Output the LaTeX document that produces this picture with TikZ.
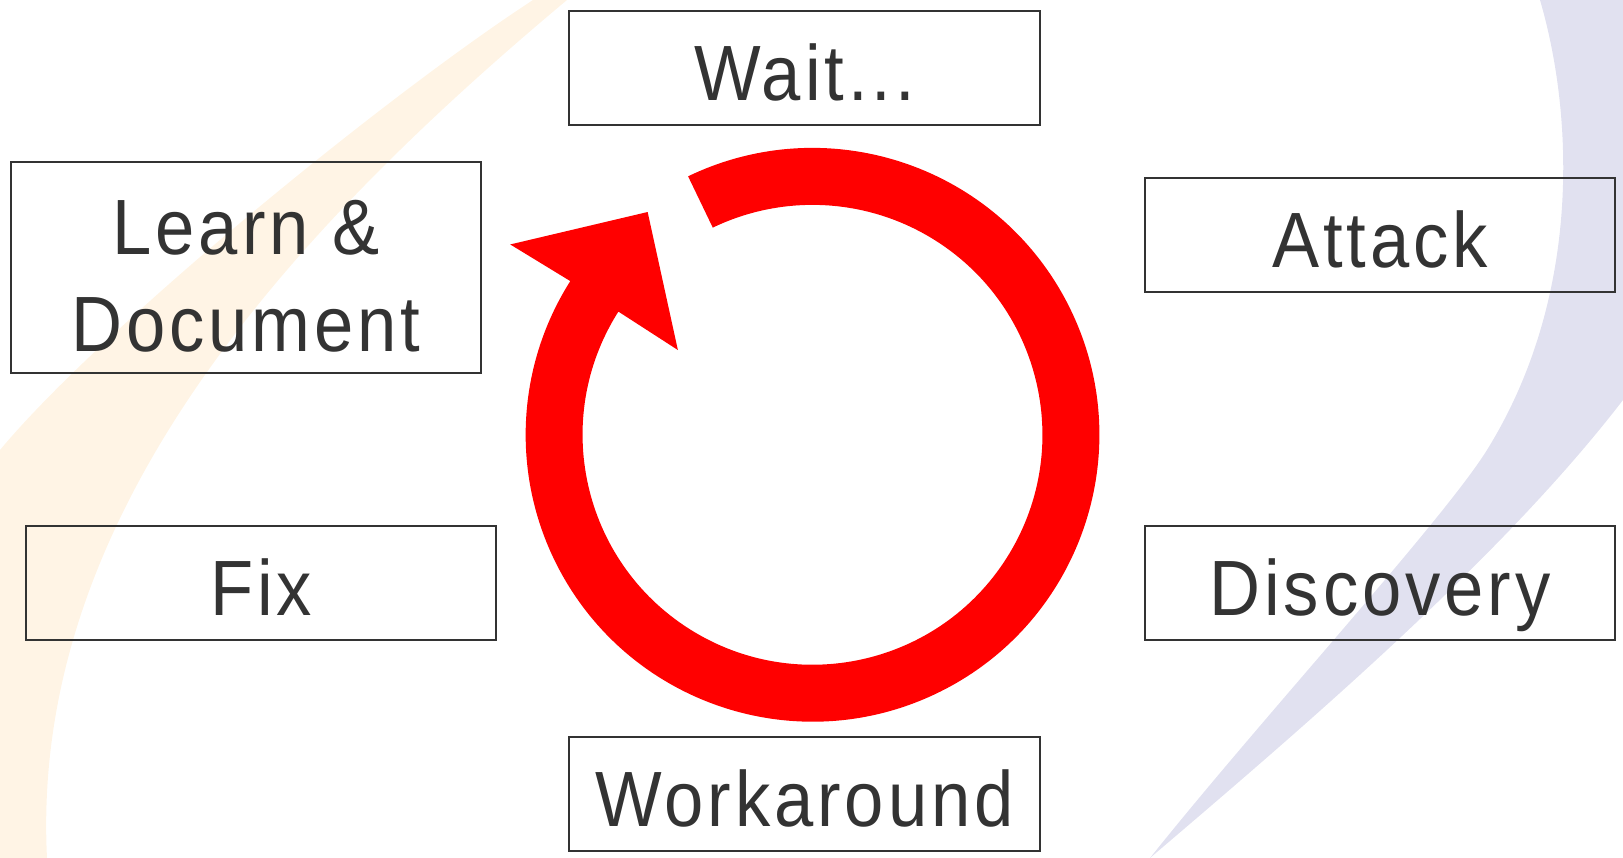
\documentclass[tikz,border=0pt]{standalone}
\usepackage{fontspec}
\setmainfont{Liberation Sans}[FakeStretch=0.9, LetterSpace=5]
\usetikzlibrary{calc}

\definecolor{inkgray}{RGB}{51,51,51}
\definecolor{cyclered}{RGB}{255,0,0}
\definecolor{swooshblue}{RGB}{225,225,240}
\definecolor{swooshorange}{RGB}{255,244,229}

\tikzset{
  box/.style={draw=inkgray, line width=0.6pt, text=inkgray, inner sep=0pt,
    minimum width=4.7cm, minimum height=1.14cm, align=center,
    font=\fontsize{22.3}{27.5}\selectfont},
  stage/.style={box, text height=0.64cm, text depth=0cm},
}

\begin{document}
\begin{tikzpicture}[x=0.01cm, y=-0.01cm]
  \useasboundingbox (0,0) rectangle (1623,858);
  % Draw the faint background swooshes.
  \fill[swooshorange] (533,0) .. controls (380,100) and (100,330) .. (0,450)
    -- (0,858) -- (47,858) .. controls (30,520) and (280,240) .. (567,0) -- cycle;
  \fill[swooshblue] (1540,0) .. controls (1575,120) and (1580,300) .. (1487,450)
    .. controls (1442,522) and (1260,720) .. (1150,858)
    .. controls (1300,730) and (1500,560) .. (1623,400) -- (1623,0) -- cycle;

  % The six stages round the cycle.
  \node[stage] (wait) at (804.5,68) {Wait...};
  \node[stage] (attack) at (1380,235) {Attack};
  \node[stage] (discovery) at (1380,583) {Discovery};
  \node[stage] (workaround) at (804.5,794) {Workaround};
  \node[stage] (fix) at (261,583) {Fix};
  \node[box, minimum height=2.11cm] (learn) at (246,267.5) {\rule{0pt}{0.72cm}Learn \&\\Document};

  % Draw the red ring arrow, running clockwise from the gap at the top.
  \coordinate (ring) at (812.5,434.8);
  \fill[cyclered] ($(ring)+(115.7:2.867cm)$) arc[start angle=115.7, end angle=-212.4, radius=2.867cm]
    -- ($(ring)+(147.8:3.57cm)$) -- ($(ring)+(126.5:2.77cm)$) -- ($(ring)+(147.8:1.59cm)$)
    -- ($(ring)+(147.6:2.298cm)$) arc[start angle=-212.4, end angle=115.7, radius=2.298cm] -- cycle;
\end{tikzpicture}
\end{document}
